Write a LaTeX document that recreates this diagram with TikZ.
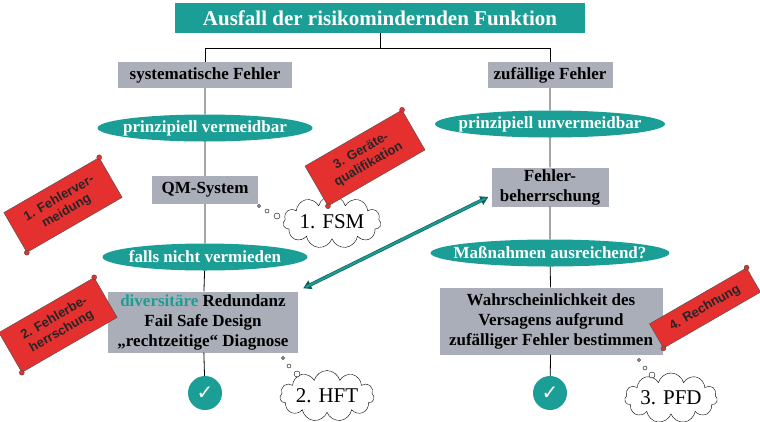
\documentclass[tikz,border=0pt]{standalone}
\usepackage{fontspec}
\setmainfont{Liberation Serif}
\newfontfamily\sansf{Liberation Sans}
\newfontfamily\dejavu{DejaVu Sans}
\usetikzlibrary{shapes.geometric,shapes.symbols,arrows.meta}
\definecolor{teal1}{HTML}{1A9E96}
\definecolor{gray1}{HTML}{A9AEB8}
\definecolor{red1}{HTML}{E53030}
\begin{document}
\begin{tikzpicture}[x=1pt,y=1pt,
  gbox/.style={fill=gray1,font=\bfseries\fontsize{17}{20}\selectfont,align=center,inner sep=3pt},
  oval/.style={ellipse,fill=teal1,text=white,font=\bfseries\fontsize{17}{19}\selectfont,inner xsep=-12pt,inner ysep=0pt,minimum height=27pt},
  ln/.style={line width=0.8pt},
  cl/.style={cloud,cloud puffs=11,draw,fill=white,font=\fontsize{21}{23}\selectfont,inner sep=1pt,aspect=2.8},
  ban/.style={fill=red1,draw=black!70,font=\sansf\bfseries\fontsize{13}{15}\selectfont,align=center,text=black!85,inner sep=2pt},
  dot/.style={draw,fill=white,circle,inner sep=0pt}]
\useasboundingbox (0,0) rectangle (760,-421);
\node[fill=teal1,text=white,font=\bfseries\fontsize{21}{24}\selectfont,minimum width=410pt,minimum height=30pt] (title) at (380,-18) {Ausfall der risikomindernden Funktion};
\coordinate (hm) at (380,-48); \coordinate (hl) at (205,-48); \coordinate (hr) at (550,-48);
\node[gbox,minimum width=174pt,minimum height=26pt] (sys) at (205,-75) {systematische Fehler};
\node[gbox,minimum width=125pt,minimum height=26pt] (zuf) at (550,-75) {zufällige Fehler};
\node[oval,minimum width=215pt] (pv) at (205,-128) {prinzipiell vermeidbar};
\node[oval,minimum width=230pt] (pu) at (550,-124) {prinzipiell unvermeidbar};
\node[gbox,minimum width=106pt,minimum height=28pt] (qm) at (205,-190) {QM-System};
\node[gbox,minimum width=117pt,minimum height=39pt,inner sep=1pt] (fb) at (550,-187) {Fehler-\\beherrschung};
\node[oval,minimum width=205pt] (fn) at (205,-257) {falls nicht vermieden};
\node[oval,minimum width=232pt] (ma) at (550,-253) {Maßnahmen ausreichend?};
\node[gbox,minimum width=190pt,minimum height=61pt,inner sep=1pt] (div) at (203,-322) {\textcolor{teal1}{diversitäre} Redundanz\\Fail Safe Design\\„rechtzeitige“ Diagnose};
\node[gbox,minimum width=223pt,minimum height=67pt,inner sep=1pt] (wa) at (551,-321) {Wahrscheinlichkeit des\\Versagens aufgrund\\zufälliger Fehler bestimmen};
\node[circle,fill=teal1,text=white,minimum size=34pt,inner sep=0pt,font=\dejavu\bfseries\fontsize{20}{20}\selectfont] (c1) at (205,-393) {✓};
\node[circle,fill=teal1,text=white,minimum size=34pt,inner sep=0pt,font=\dejavu\bfseries\fontsize{20}{20}\selectfont] (c2) at (550,-393) {✓};
\draw[ln] (title) -- (hm) (hl) -- (hr) (hl) -- (sys) (hr) -- (zuf);
\draw[ln] (sys) -- (pv) (pv) -- (qm) (qm) -- (fn) (fn) -- (div) (div) -- (c1);
\draw[ln] (zuf) -- (pu) (pu) -- (fb) (fb) -- (ma) (ma) -- (wa) (wa) -- (c2);
\path (div.north east) ++(5,3) coordinate (a1) (fb.west) ++(-3,-10) coordinate (a2);
\draw[teal1!60!black,line width=3.5pt,{Triangle[length=8pt,width=9pt]}-{Triangle[length=8pt,width=9pt]}] (a1) -- (a2);
\draw[teal1,line width=2pt,shorten <=3pt,shorten >=3pt] (a1) -- (a2);
% clouds
\node[cl,minimum width=88pt,minimum height=33pt] (fsm) at (332,-222) {1. FSM};
\node[dot,minimum size=3pt] (d1) at (259,-206) {};
\node[dot,minimum size=4pt] (d2) at (267,-211) {};
\node[dot,minimum size=6pt] (d3) at (277,-216) {};
\node[cl,minimum width=88pt,minimum height=33pt] (hft) at (327,-396) {2. HFT};
\node[dot,minimum size=3pt] (e1) at (283,-358) {};
\node[dot,minimum size=4pt] (e2) at (289,-366) {};
\node[dot,minimum size=6pt] (e3) at (297,-374) {};
\node[cl,minimum width=86pt,minimum height=33pt] (pfd) at (671,-398) {3. PFD};
\node[dot,minimum size=3pt] (f1) at (639,-360) {};
\node[dot,minimum size=4pt] (f2) at (645,-368) {};
\node[dot,minimum size=6pt] (f3) at (652,-375) {};
% banners
\node[ban,rotate=30,minimum width=110pt,minimum height=46pt] (b1) at (63,-205) {1. Fehlerver-\\meidung};
\node[ban,rotate=30,minimum width=112pt,minimum height=46pt] (b3) at (365,-158) {3. Geräte-\\qualifikation};
\node[ban,rotate=30,minimum width=110pt,minimum height=46pt] (b2) at (58,-325) {2. Fehlerbe-\\herrschung};
\node[ban,rotate=30,minimum width=112pt,minimum height=28pt] (b4) at (705,-308) {4. Rechnung};
\foreach \b in {b1,b2,b3,b4}{
  \node[circle,fill=red1,draw=black!70,minimum size=5pt,inner sep=0pt] at (\b.north east) {};
  \node[circle,fill=red1,draw=black!70,minimum size=5pt,inner sep=0pt] at (\b.south west) {};
}
\end{tikzpicture}
\end{document}
